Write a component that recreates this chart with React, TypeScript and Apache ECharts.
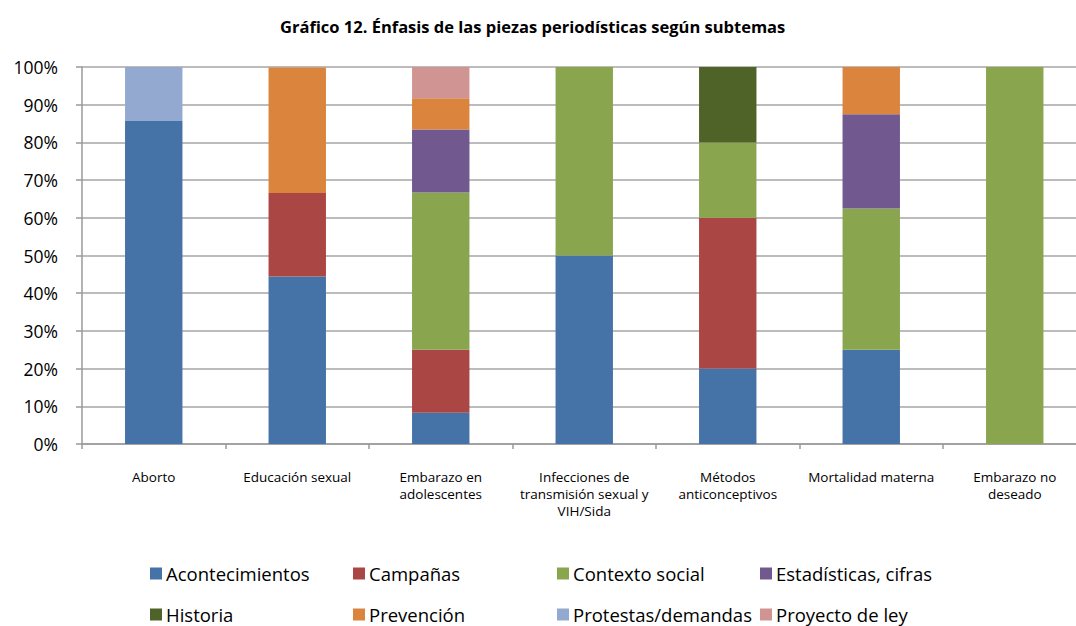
import React, { useEffect, useRef } from "react";
import * as echarts from "echarts";

const title = "Gráfico 12. Énfasis de las piezas periodísticas según subtemas";
const categories = [
  "Aborto",
  "Educación sexual",
  "Embarazo en\nadolescentes",
  "Infecciones de\ntransmisión sexual y\nVIH/Sida",
  "Métodos\nanticonceptivos",
  "Mortalidad materna",
  "Embarazo no\ndeseado",
];
const seriesNames = [
  "Acontecimientos",
  "Campañas",
  "Contexto social",
  "Estadísticas, cifras",
  "Historia",
  "Prevención",
  "Protestas/demandas",
  "Proyecto de ley",
];
const colors = ["#4572A7", "#AA4643", "#89A54E", "#71588F", "#4F6228", "#DB843D", "#93A9CF", "#D09493"];
const acontecimientos = [85.7, 44.4, 8.3, 50, 20, 25, 0];
const campanas = [0, 22.2, 16.7, 0, 40, 0, 0];
const contextoSocial = [0, 0, 41.7, 50, 20, 37.5, 100];
const estadisticas = [0, 0, 16.7, 0, 0, 25, 0];
const historia = [0, 0, 0, 0, 20, 0, 0];
const prevencion = [0, 33.3, 8.3, 0, 0, 12.5, 0];
const protestas = [14.3, 0, 0, 0, 0, 0, 0];
const proyectoLey = [0, 0, 8.3, 0, 0, 0, 0];
const seriesValues = [acontecimientos, campanas, contextoSocial, estadisticas, historia, prevencion, protestas, proyectoLey];
const yTicks = [0, 10, 20, 30, 40, 50, 60, 70, 80, 90, 100];

const FONT = "'Open Sans', Lato, sans-serif";

export default function App() {
  const ref = useRef<HTMLDivElement>(null);
  useEffect(() => {
    document.body.style.margin = "0";
    document.body.style.overflow = "hidden";
    if (!ref.current) return;
    const chart = echarts.init(ref.current, null, { renderer: "svg" });
    const legendCols = [150, 353, 557, 760];
    const legendRows = [564, 605];
    chart.setOption({
      animation: false,
      textStyle: { fontFamily: FONT },
      title: {
        text: title,
        left: 275,
        top: 13,
        textStyle: { fontSize: 16.5, fontWeight: "bold", color: "#000", fontFamily: FONT },
      },
      legend: seriesNames.map((n, i) => ({
        data: [n],
        left: legendCols[i % 4],
        top: legendRows[Math.floor(i / 4)],
        itemWidth: 12,
        itemHeight: 12,
        itemGap: 0,
        icon: "rect",
        padding: 0,
        selectedMode: false,
        textStyle: { fontSize: 18.5, color: "#000", fontFamily: FONT, padding: [0, 0, 0, -1] },
      })),
      grid: { left: 82, right: 3.5, top: 67, bottom: 182, containLabel: false },
      xAxis: {
        type: "category",
        data: categories,
        axisLine: { lineStyle: { color: "#9A9A9A", width: 1.5 } },
        axisTick: { show: true, length: 5, lineStyle: { color: "#9A9A9A", width: 1.5 } },
        axisLabel: { fontSize: 13.5, color: "#000", margin: 24, lineHeight: 17, interval: 0, fontFamily: FONT },
      },
      yAxis: {
        type: "value",
        min: 0,
        max: 100,
        interval: 10,
        axisLine: { show: true, lineStyle: { color: "#9A9A9A", width: 1.5 } },
        axisTick: { show: true, length: 6, lineStyle: { color: "#9A9A9A", width: 1.5 } },
        splitLine: { lineStyle: { color: "#A6A6A6", width: 1.5 } },
        axisLabel: {
          fontSize: 17.5,
          color: "#000",
          margin: 24,
          fontFamily: FONT,
          formatter: (v: number) => (yTicks.includes(v) ? v + "%" : ""),
        },
      },
      series: seriesNames.map((n, i) => ({
        name: n,
        type: "bar",
        stack: "total",
        barWidth: "40%",
        data: seriesValues[i],
        itemStyle: { color: colors[i] },
      })),
    });
    return () => chart.dispose();
  }, []);
  return (
    <div style={{ width: 1076, height: 626, overflow: "hidden", position: "relative" }}>
      <div ref={ref} style={{ width: 1090, height: 626 }} />
    </div>
  );
}
